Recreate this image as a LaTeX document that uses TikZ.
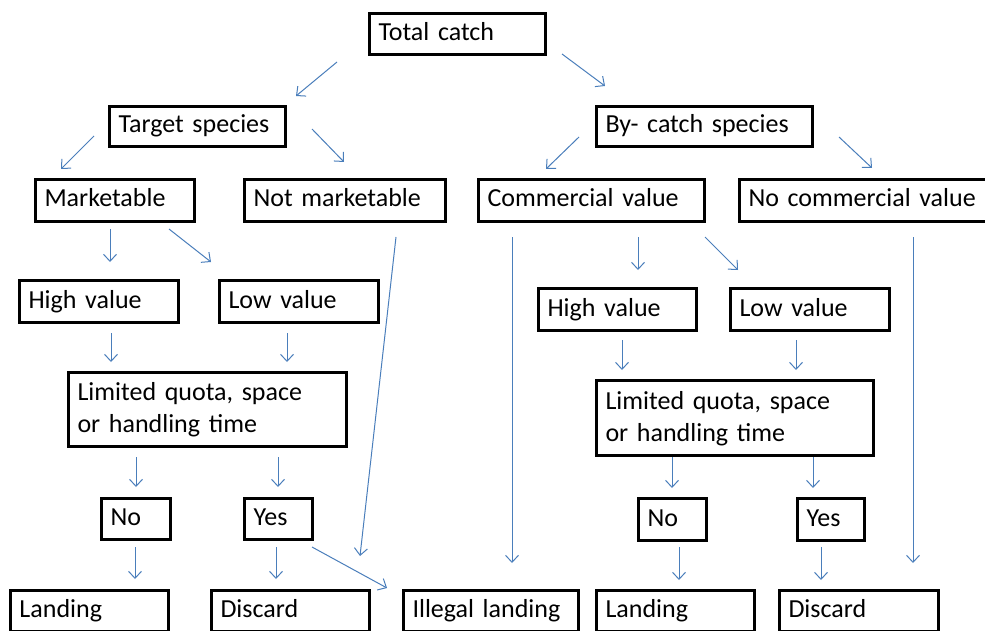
\documentclass[tikz,border=0pt]{standalone}
\usepackage{fontspec}
\setmainfont{Carlito}
\usepackage{tikz}
\usetikzlibrary{arrows.meta}

\definecolor{flowblue}{RGB}{74,126,187}

\tikzset{
  box/.style={draw, line width=3pt, anchor=north west, inner xsep=9pt, inner ysep=0pt,
    align=left, font=\fontsize{26}{32}\selectfont,
    execute at begin node=\rule[-6pt]{0pt}{25pt}},
  sz/.style 2 args={text width=#1pt, minimum height=#2pt},
  flow/.style={draw=flowblue, line width=1pt, -{Straight Barb[length=7pt,width=13pt]}}
}

\begin{document}
\begin{tikzpicture}[x=1pt, y=-1pt]
  \useasboundingbox (0,0) rectangle (985,631);
  \clip (0,0) rectangle (985,631);

  % boxes
  \node[box, sz={158}{41}] (total)   at (368,12)  {Total catch};
  \node[box, sz={158}{40}] (target)  at (108,105) {Target species};
  \node[box, sz={198}{40}] (bycatch) at (595,105) {By- catch species};
  \node[box, sz={141}{42}] (mkt)     at (34,178)  {Marketable};
  \node[box, sz={183}{42}] (notmkt)  at (243,178) {Not marketable};
  \node[box, sz={208}{42}] (comm)    at (477,178) {Commercial value};
  \node[box, sz={230}{42}] (nocomm)  at (738,178) {No commercial value};
  \node[box, sz={141}{42}] (hiL)     at (18,279)  {High value};
  \node[box, sz={141}{42}] (loL)     at (218,279) {Low value};
  \node[box, sz={140}{42}] (hiR)     at (537,287) {High value};
  \node[box, sz={141}{42}] (loR)     at (729,287) {Low value};
  \node[box, sz={260}{74}] (limL)    at (67,371)  {Limited quota, space\\or handling time};
  \node[box, sz={259}{75}] (limR)    at (595,379) {Limited quota, space\\or handling time};
  \node[box, sz={51}{41}]  (noL)     at (100,497) {No};
  \node[box, sz={50}{41}]  (yesL)    at (243,497) {Yes};
  \node[box, sz={50}{42}]  (noR)     at (637,497) {No};
  \node[box, sz={49}{42}]  (yesR)    at (796,497) {Yes};
  \node[box, sz={140}{41}] (landL)   at (9,589)   {Landing};
  \node[box, sz={140}{41}] (discL)   at (210,589) {Discard};
  \node[box, sz={157}{41}] (illegal) at (402,589) {Illegal landing};
  \node[box, sz={140}{41}] (landR)   at (595,589) {Landing};
  \node[box, sz={141}{41}] (discR)   at (778,589) {Discard};

  % arrow ends
  \coordinate (s1) at (337,62);  \coordinate (e1) at (296,96);
  \coordinate (s2) at (562,54);  \coordinate (e2) at (605,86);
  \coordinate (s3) at (94,136);  \coordinate (e3) at (61,169);
  \coordinate (s4) at (312,129); \coordinate (e4) at (344,162);
  \coordinate (s5) at (579,137); \coordinate (e5) at (546,169);
  \coordinate (s6) at (839,137); \coordinate (e6) at (872,168);
  \coordinate (s7) at (110,229); \coordinate (e7) at (110,262);
  \coordinate (s8) at (169,229); \coordinate (e8) at (211,262);
  \coordinate (s9) at (396,237); \coordinate (e9) at (360,556);
  \coordinate (s10) at (512,237); \coordinate (e10) at (512,563);
  \coordinate (s11) at (638,237); \coordinate (e11) at (638,270);
  \coordinate (s12) at (705,237); \coordinate (e12) at (738,270);
  \coordinate (s13) at (913,237); \coordinate (e13) at (913,563);
  \coordinate (s14) at (111,333); \coordinate (e14) at (111,362);
  \coordinate (s15) at (287,333); \coordinate (e15) at (287,362);
  \coordinate (s16) at (136,457); \coordinate (e16) at (136,487);
  \coordinate (s17) at (278,457); \coordinate (e17) at (278,487);
  \coordinate (s18) at (135,547); \coordinate (e18) at (135,579);
  \coordinate (s19) at (276,547); \coordinate (e19) at (276,579);
  \coordinate (s20) at (312,547); \coordinate (e20) at (387,588);
  \coordinate (s21) at (622,340); \coordinate (e21) at (622,370);
  \coordinate (s22) at (796,340); \coordinate (e22) at (796,370);
  \coordinate (s23) at (672,457); \coordinate (e23) at (672,488);
  \coordinate (s24) at (813,457); \coordinate (e24) at (813,488);
  \coordinate (s25) at (679,547); \coordinate (e25) at (679,580);
  \coordinate (s26) at (821,547); \coordinate (e26) at (821,580);

  \foreach \i in {1,...,26}
    \draw[flow] (s\i) -- (e\i);
\end{tikzpicture}
\end{document}
